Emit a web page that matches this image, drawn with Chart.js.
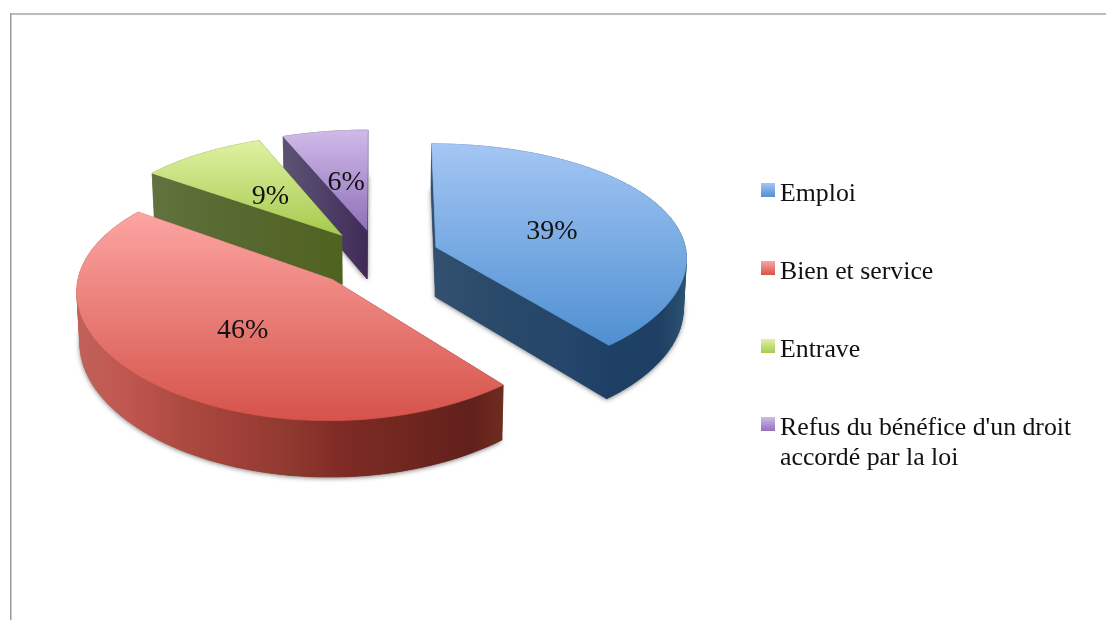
<!DOCTYPE html>
<html><head><meta charset="utf-8">
<style>html,body{margin:0;padding:0;background:#fff}canvas{display:block}</style>
<script src="https://cdn.jsdelivr.net/npm/chart.js@4"></script>
</head><body><canvas id="c" width="1106" height="620"></canvas>
<script>
const categories = ['Emploi','Bien et service','Entrave',"Refus du bénéfice d'un droit accordé par la loi"];
const shares = [39,46,9,6];
const legendLines = [['Emploi'],['Bien et service'],['Entrave'],["Refus du bénéfice d'un droit",'accordé par la loi']];
const topColours = [['#a4c6f4','#4f90d2'],['#fca5a2','#d5534a'],['#e0f1a2','#a6ca4e'],['#cfbbe8','#9170ba']];
const wallStops = [
 [[0,'#33506f'],[.25,'#2a4a6b'],[.5,'#26466a'],[.7,'#1f4066'],[.9,'#1f4064'],[1,'#2c5272']],
 [[0,'#c0625a'],[.12,'#bf5650'],[.25,'#ac4a40'],[.38,'#a03f38'],[.5,'#8f3a2e'],[.62,'#7f2a26'],[.75,'#72281f'],[.92,'#62201c'],[1,'#6e2c20']],
 [[0,'#62723f'],[.4,'#566a30'],[.7,'#556529'],[1,'#4f6320']],
 [[0,'#5e5272'],[.5,'#4e4068'],[1,'#3f2b55']]
];
const paintOrder = [3,2,0,1];
const view = {tilt:.47, perspY:.12, perspX:.08, depth:50, depthPow:.8, base:.99};

function proj(c,u,v){const w=1-view.perspY*v,wx=1-view.perspX*v;return {x:c.x+c.R*u/wx,y:c.y+c.R*view.tilt*v/w,w};}
function low(c,p){return {x:c.x+(p.x-c.x)*view.base,y:p.y+view.depth/Math.pow(p.w,view.depthPow)};}
function outline(el,offset){
  const {x,y,startAngle:s,endAngle:e,outerRadius:R}=el.getProps(['x','y','startAngle','endAngle','outerRadius'],true);
  const c={x,y,R},m=(s+e)/2,ou=offset/R*Math.cos(m),ov=offset/R*Math.sin(m);
  const pts=[proj(c,ou,ov)],n=Math.ceil((e-s)/(Math.PI/90));
  for(let i=0;i<=n;i++){const a=s+(e-s)*i/n;pts.push(proj(c,ou+Math.cos(a),ov+Math.sin(a)));}
  return {c,pts,m,ou,ov};
}
function trace(ctx,ps){ctx.beginPath();ps.forEach((p,i)=>i?ctx.lineTo(p.x,p.y):ctx.moveTo(p.x,p.y));ctx.closePath();}

const pie3d={id:'pie3d',
 beforeDraw(chart){const ctx=chart.ctx;ctx.save();ctx.fillStyle='#fff';ctx.fillRect(0,0,1106,620);
  ctx.fillStyle='#bcbcbc';ctx.fillRect(10,13,1096,2);ctx.fillStyle='#9a9a9a';ctx.fillRect(10,13,1.5,607);ctx.restore();},
 beforeDatasetDraw(chart,args){
  const ctx=chart.ctx,meta=args.meta;
  paintOrder.forEach(i=>{
   const el=meta.data[i],o=outline(el,el.options.offset),pts=o.pts,bot=pts.map(p=>low(o.c,p));
   const xs=pts.concat(bot).map(p=>p.x),ys=pts.map(p=>p.y);
   const minx=Math.min(...xs),maxx=Math.max(...xs),miny=Math.min(...ys),maxy=Math.max(...ys);
   const wg=ctx.createLinearGradient(minx,0,maxx,0);wallStops[i].forEach(s=>wg.addColorStop(s[0],s[1]));
   ctx.save();ctx.shadowColor='rgba(0,0,0,.55)';ctx.shadowBlur=5;ctx.shadowOffsetY=1;ctx.fillStyle='#888';
   ctx.beginPath();pts.forEach((p,k)=>{const q=(k+1)%pts.length,next=pts[q],b=bot[k],bn=bot[q];
     ctx.moveTo(p.x,p.y);ctx.lineTo(next.x,next.y);ctx.lineTo(bn.x,bn.y);ctx.lineTo(b.x,b.y);ctx.closePath();});
   trace(ctx,bot);ctx.fill('nonzero');ctx.restore();
   ctx.save();ctx.fillStyle=wg;ctx.strokeStyle=wg;ctx.lineWidth=.6;
   trace(ctx,bot);ctx.fill();
   const quads=pts.map((p,k)=>{const q=(k+1)%pts.length;return [p,pts[q],bot[q],bot[k]];})
     .sort((a,b)=>(a[0].y+a[1].y)-(b[0].y+b[1].y));
   quads.forEach(q=>{trace(ctx,q);ctx.fill();ctx.stroke();});
   ctx.restore();
   const tg=ctx.createLinearGradient(0,miny,0,maxy);tg.addColorStop(0,topColours[i][0]);tg.addColorStop(1,topColours[i][1]);
   ctx.save();ctx.fillStyle=tg;ctx.strokeStyle=tg;ctx.lineWidth=.8;ctx.lineJoin='round';trace(ctx,pts);ctx.fill();ctx.stroke();ctx.restore();
  });
  return false;
 },
 afterDatasetsDraw(chart){
  const ctx=chart.ctx,meta=chart.getDatasetMeta(0);
  ctx.save();ctx.fillStyle='#111';ctx.textAlign='center';ctx.textBaseline='middle';ctx.font='28px "Liberation Serif"';
  meta.data.forEach((el,i)=>{const o=outline(el,el.options.offset);
    const p=proj(o.c,o.ou+.5*Math.cos(o.m),o.ov+.5*Math.sin(o.m));
    ctx.fillText(shares[i]+'%',p.x+1,p.y+4);});
  ctx.textAlign='left';ctx.textBaseline='alphabetic';ctx.font='25.8px "Liberation Serif"';
  legendLines.forEach((lines,i)=>{const top=183+78*i;
    const g=ctx.createLinearGradient(0,top,0,top+14);g.addColorStop(0,topColours[i][0]);g.addColorStop(1,topColours[i][1]);
    ctx.fillStyle=g;ctx.fillRect(761,top,14,14);ctx.fillStyle='#111';
    lines.forEach((t,k)=>ctx.fillText(t,780,top+18+30*k));});
  ctx.restore();
 }
};
new Chart(document.getElementById('c'),{
 type:'pie',
 data:{labels:categories,datasets:[{data:shares,backgroundColor:topColours.map(c=>c[1]),offset:[62,65,60,60],borderWidth:0}]},
 options:{responsive:false,animation:false,radius:251,layout:{padding:{left:0,right:350,top:0,bottom:106}},
  plugins:{legend:{display:false},tooltip:{enabled:false}}},
 plugins:[pie3d]
});
</script></body></html>
